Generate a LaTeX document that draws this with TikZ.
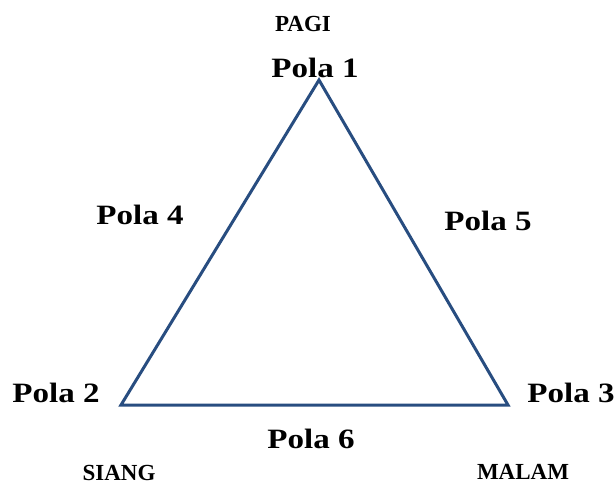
\documentclass[tikz,border=0pt]{standalone}
\usepackage{fontspec}
\setmainfont[FakeStretch=1.18]{Liberation Serif}
\newfontfamily\capfont[FakeStretch=1.0]{Liberation Serif}
\begin{document}
\begin{tikzpicture}[x=1pt,y=-1pt,
  lbl/.style={font=\bfseries\fontsize{28}{30}\selectfont, inner sep=0pt, anchor=base},
  tlbl/.style={font=\capfont\bfseries\fontsize{23}{25}\selectfont, inner sep=0pt, anchor=base},
  edge/.style={draw={rgb,255:red,40;green,77;blue,128}, line width=3pt, line join=miter}]
\useasboundingbox (0,0) rectangle (616,484);
\coordinate (A) at (319,80);
\coordinate (B) at (121,405);
\coordinate (C) at (508,405);
\draw[edge] (A) -- (B) -- (C) -- cycle;
\node[tlbl] (pagi) at (303,32) {PAGI};
\node[lbl] (p1) at (315,78) {Pola 1};
\node[lbl] (p4) at (140,224) {Pola 4};
\node[lbl] (p5) at (488,230) {Pola 5};
\node[lbl] (p2) at (56,402) {Pola 2};
\node[lbl] (p3) at (571,402) {Pola 3};
\node[lbl] (p6) at (311,448) {Pola 6};
\node[tlbl] (siang) at (119,480) {SIANG};
\node[tlbl] (malam) at (523,479) {MALAM};
\end{tikzpicture}
\end{document}
